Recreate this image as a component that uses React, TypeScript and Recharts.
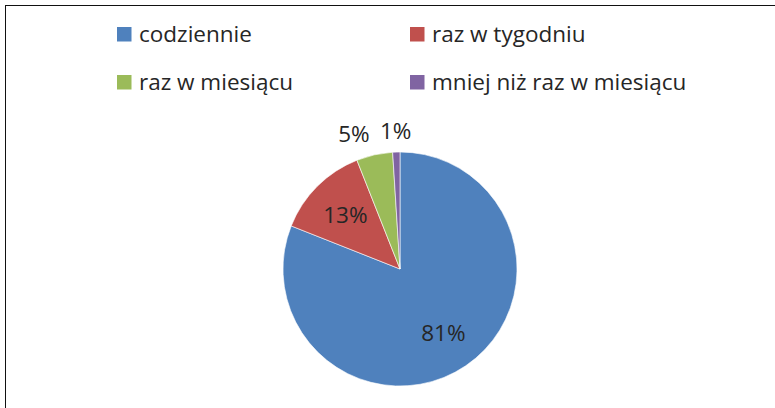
import React from "react";
import { PieChart, Pie, Cell, Legend } from "recharts";

const categories = [
  "codziennie",
  "raz w tygodniu",
  "raz w miesiącu",
  "mniej niż raz w miesiącu",
];
const shares = [81, 13, 5, 1];
const colors = ["#4F81BD", "#C0504D", "#9BBB59", "#8064A2"];

const data = categories.map((name, i) => ({ name, value: shares[i] }));

const FONT = "'Open Sans', sans-serif";
const TEXT = "#262626";
const RAD = Math.PI / 180;

function renderLabel(props: any) {
  const { cx, cy, midAngle, outerRadius, value } = props;
  const inside = value >= 10;
  const r = inside ? outerRadius * 0.66 : outerRadius + 22;
  const cos = Math.cos(-midAngle * RAD);
  const x = cx + r * cos;
  const y = cy + r * Math.sin(-midAngle * RAD);
  let anchor: "start" | "middle" | "end" = "middle";
  if (!inside && Math.abs(cos) > 0.1) anchor = cos < 0 ? "end" : "start";
  return (
    <text
      x={x}
      y={y}
      textAnchor={anchor}
      dominantBaseline="central"
      fill={TEXT}
      fontSize={22.5}
      fontFamily={FONT}
    >
      {`${value}%`}
    </text>
  );
}

function LegendBox() {
  const cols = [117, 410];
  const rows = [42, 90];
  return (
    <svg width={775} height={110}>
      {categories.map((name, i) => {
        const x = cols[i % 2];
        const y = rows[Math.floor(i / 2)];
        return (
          <g key={name}>
            <rect x={x} y={y - 15} width={14.5} height={14.5} fill={colors[i]} />
            <text x={x + 22} y={y} fill={TEXT} fontSize={22.5} fontFamily={FONT}>
              {name}
            </text>
          </g>
        );
      })}
    </svg>
  );
}

export default function App() {
  return (
    <div
      style={{
        position: "fixed",
        left: 0,
        top: 0,
        width: 775,
        height: 408,
        background: "#fff",
        overflow: "hidden",
      }}
    >
      <div
        style={{
          position: "absolute",
          left: 5,
          top: 5,
          width: 780,
          height: 410,
          borderTop: "1px solid #111",
          borderLeft: "1px solid #111",
        }}
      />
      <div style={{ position: "absolute", left: 0, top: 0 }}>
        <PieChart
          width={775}
          height={408}
          margin={{ top: 0, right: 0, bottom: 0, left: 0 }}
        >
          <Legend
            content={() => <LegendBox />}
            wrapperStyle={{ top: 0, left: 0, width: 775 }}
          />
          <Pie
            data={data}
            dataKey="value"
            nameKey="name"
            cx={400}
            cy={269}
            outerRadius={117}
            startAngle={90}
            endAngle={-270}
            stroke="#fff"
            strokeWidth={0.6}
            label={renderLabel}
            labelLine={false}
            isAnimationActive={false}
          >
            {data.map((d, i) => (
              <Cell key={d.name} fill={colors[i]} />
            ))}
          </Pie>
        </PieChart>
      </div>
    </div>
  );
}
